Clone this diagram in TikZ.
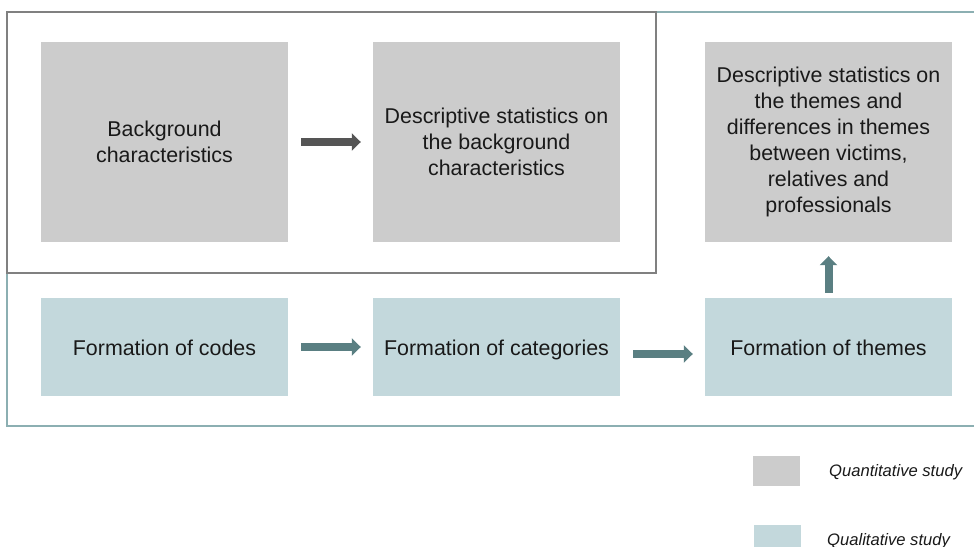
\documentclass[tikz,border=0pt]{standalone}
\usepackage{fontspec}
\setmainfont{Liberation Sans}
\usetikzlibrary{arrows.meta}
\definecolor{quantgray}{RGB}{204,204,204}
\definecolor{qualteal}{RGB}{195,216,220}
\definecolor{arrowteal}{RGB}{90,127,130}
\definecolor{arrowgray}{RGB}{85,85,85}
\definecolor{framegray}{RGB}{128,128,128}
\definecolor{frameteal}{RGB}{140,175,178}

\begin{document}
\begin{tikzpicture}[x=1bp,y=-1bp,
    box/.style={minimum width=247bp,inner sep=0pt,align=center,
      text=black!90,font=\fontsize{21.4bp}{26bp}\selectfont},
    quantbox/.style={box,fill=quantgray,minimum height=200bp},
    qualbox/.style={box,fill=qualteal,minimum height=98bp,
      text height=16bp,text depth=0bp},
    blockarrow/.style={line width=8bp,-{Triangle[length=9bp,width=17bp]},
      shorten <=13bp,shorten >=12bp},
    keybox/.style={minimum width=47bp,minimum height=30bp,inner sep=0pt},
    keytext/.style={anchor=west,inner sep=0pt,text=black!90,
      font=\fontsize{16.6bp}{20bp}\selectfont\itshape}]
    \useasboundingbox (0,0) rectangle (974,547);

    % frames round both parts
    \draw[frameteal,line width=1.5bp] (7,12) rectangle (990,426);
    \draw[framegray,line width=1.5bp] (7,12) rectangle (656,273);

    % quantitative row
    \node[quantbox] (background) at (164.5,142) {Background\\characteristics};
    \node[quantbox] (bgstats) at (496.5,142) {Descriptive statistics on\\the background\\characteristics};
    \node[quantbox] (themestats) at (828.5,142) {Descriptive statistics on\\the themes and\\differences in themes\\between victims,\\relatives and\\professionals};
    \draw[blockarrow,arrowgray] (background) -- (bgstats);

    % qualitative row
    \node[qualbox] (codes) at (164.5,347) {Formation of codes};
    \node[qualbox] (categories) at (496.5,347) {Formation of categories};
    \node[qualbox] (themes) at (828.5,347) {Formation of themes};
    \draw[blockarrow,arrowteal] (codes) -- (categories);
    \draw[blockarrow,arrowteal] ([yshift=-7bp]categories.east) -- ([yshift=-7bp]themes.west);
    \draw[blockarrow,arrowteal,shorten <=5bp,shorten >=14bp] (themes) -- (themestats);

    % legend
    \node[keybox,fill=quantgray] (quantkey) at (776.5,471) {};
    \node[keytext] (quanttext) at (829,472) {Quantitative study};
    \node[keybox,fill=qualteal] (qualkey) at (777,540) {};
    \node[keytext] (qualtext) at (827,541) {Qualitative study};
\end{tikzpicture}
\end{document}
